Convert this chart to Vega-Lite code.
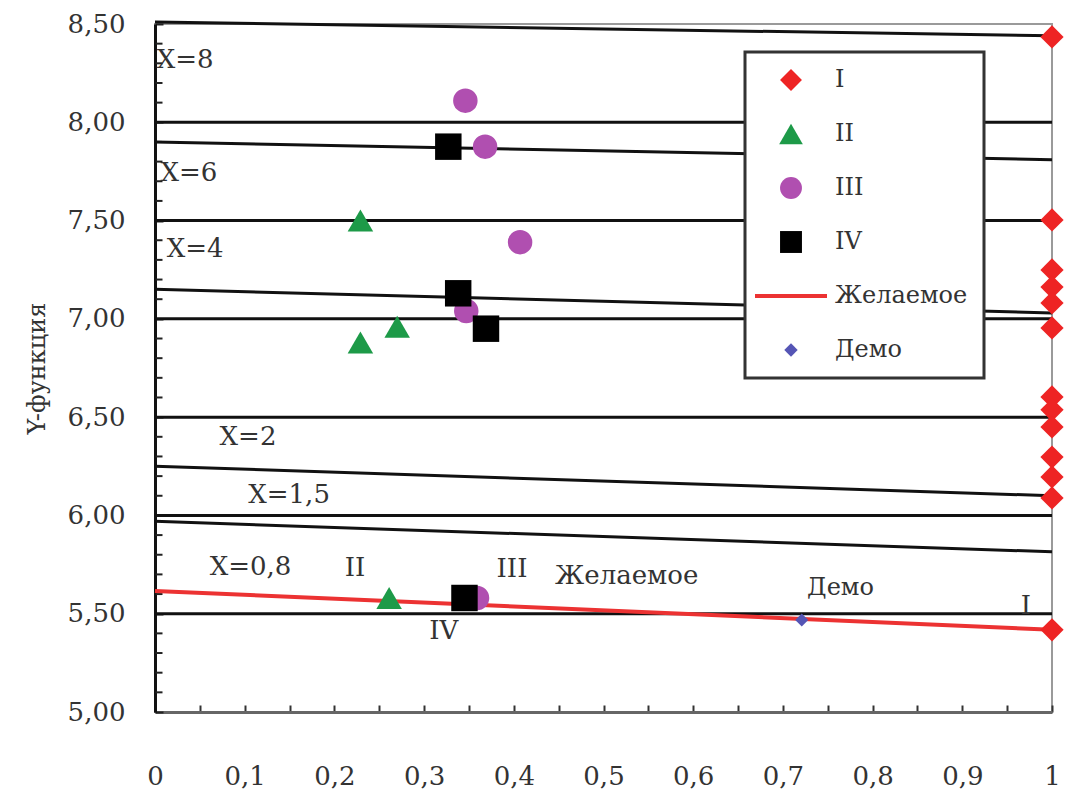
{
  "$schema": "https://vega.github.io/schema/vega-lite/v6.json",
  "width": 897,
  "height": 688,
  "autosize": {"type": "none"},
  "padding": {"left": 155, "top": 24, "right": 18, "bottom": 82},
  "background": "white",
  "config": {
    "font": "DejaVu Serif",
    "view": {"stroke": "#9a9a9a", "strokeWidth": 2},
    "axis": {"labelOverlap": false}
  },
  "datasets": {
    "grid": [{"y": 5.5}, {"y": 6.0}, {"y": 6.5}, {"y": 7.0}, {"y": 7.5}, {"y": 8.0}],
    "minor": [
      {"x": 0, "y": 5.1}, {"x": 0, "y": 5.2}, {"x": 0, "y": 5.3}, {"x": 0, "y": 5.4},
      {"x": 0, "y": 5.6}, {"x": 0, "y": 5.7}, {"x": 0, "y": 5.8}, {"x": 0, "y": 5.9},
      {"x": 0, "y": 6.1}, {"x": 0, "y": 6.2}, {"x": 0, "y": 6.3}, {"x": 0, "y": 6.4},
      {"x": 0, "y": 6.6}, {"x": 0, "y": 6.7}, {"x": 0, "y": 6.8}, {"x": 0, "y": 6.9},
      {"x": 0, "y": 7.1}, {"x": 0, "y": 7.2}, {"x": 0, "y": 7.3}, {"x": 0, "y": 7.4},
      {"x": 0, "y": 7.6}, {"x": 0, "y": 7.7}, {"x": 0, "y": 7.8}, {"x": 0, "y": 7.9},
      {"x": 0, "y": 8.1}, {"x": 0, "y": 8.2}, {"x": 0, "y": 8.3}, {"x": 0, "y": 8.4}
    ],
    "curves": [
      {"curve": "X8", "x": 0, "y": 8.51}, {"curve": "X8", "x": 1, "y": 8.44},
      {"curve": "X6", "x": 0, "y": 7.90}, {"curve": "X6", "x": 1, "y": 7.81},
      {"curve": "X4", "x": 0, "y": 7.15}, {"curve": "X4", "x": 1, "y": 7.03},
      {"curve": "X2", "x": 0, "y": 6.25}, {"curve": "X2", "x": 1, "y": 6.10},
      {"curve": "X15", "x": 0, "y": 5.97}, {"curve": "X15", "x": 1, "y": 5.815}
    ],
    "desired": [
      {"series": "Желаемое", "x": 0, "y": 5.616},
      {"series": "Желаемое", "x": 1, "y": 5.418}
    ],
    "points": [
      {"series": "I", "x": 1, "y": 8.434},
      {"series": "I", "x": 1, "y": 7.503},
      {"series": "I", "x": 1, "y": 7.249},
      {"series": "I", "x": 1, "y": 7.162},
      {"series": "I", "x": 1, "y": 7.081},
      {"series": "I", "x": 1, "y": 6.954},
      {"series": "I", "x": 1, "y": 6.603},
      {"series": "I", "x": 1, "y": 6.537},
      {"series": "I", "x": 1, "y": 6.450},
      {"series": "I", "x": 1, "y": 6.297},
      {"series": "I", "x": 1, "y": 6.196},
      {"series": "I", "x": 1, "y": 6.089},
      {"series": "I", "x": 1, "y": 5.418},
      {"series": "II", "x": 0.229, "y": 7.50},
      {"series": "II", "x": 0.270, "y": 6.96},
      {"series": "II", "x": 0.229, "y": 6.88},
      {"series": "II", "x": 0.261, "y": 5.58},
      {"series": "III", "x": 0.346, "y": 8.11},
      {"series": "III", "x": 0.368, "y": 7.876},
      {"series": "III", "x": 0.407, "y": 7.39},
      {"series": "III", "x": 0.347, "y": 7.04},
      {"series": "III", "x": 0.359, "y": 5.58},
      {"series": "IV", "x": 0.327, "y": 7.876},
      {"series": "IV", "x": 0.338, "y": 7.13},
      {"series": "IV", "x": 0.369, "y": 6.95},
      {"series": "IV", "x": 0.345, "y": 5.58},
      {"series": "Демо", "x": 0.721, "y": 5.468}
    ],
    "labels": [
      {"t": "X=8", "x": 0.002, "y": 8.317, "a": "left", "s": 26},
      {"t": "X=6", "x": 0.006, "y": 7.742, "a": "left", "s": 26},
      {"t": "X=4", "x": 0.013, "y": 7.356, "a": "left", "s": 26},
      {"t": "X=2", "x": 0.072, "y": 6.40, "a": "left", "s": 26},
      {"t": "X=1,5", "x": 0.104, "y": 6.104, "a": "left", "s": 26},
      {"t": "X=0,8", "x": 0.061, "y": 5.738, "a": "left", "s": 26},
      {"t": "II", "x": 0.223, "y": 5.733, "a": "center", "s": 26},
      {"t": "III", "x": 0.398, "y": 5.728, "a": "center", "s": 26},
      {"t": "IV", "x": 0.322, "y": 5.41, "a": "center", "s": 26},
      {"t": "Желаемое", "x": 0.446, "y": 5.69, "a": "left", "s": 26},
      {"t": "Демо", "x": 0.727, "y": 5.63, "a": "left", "s": 24},
      {"t": "I", "x": 0.971, "y": 5.54, "a": "center", "s": 26}
    ]
  },
  "layer": [
    {
      "data": {"name": "grid"},
      "mark": {"type": "rule", "color": "#111111", "strokeWidth": 3},
      "encoding": {
        "y": {
          "field": "y", "type": "quantitative",
          "scale": {"domain": [5, 8.5], "nice": false, "zero": false},
          "axis": {
            "title": "Y-функция",
            "values": [5.0, 5.5, 6.0, 6.5, 7.0, 7.5, 8.0, 8.5],
            "labelExpr": "replace(format(datum.value, '.2f'), '.', ',')",
            "grid": false,
            "tickSize": -8,
            "tickWidth": 2,
            "tickColor": "#222222",
            "labelPadding": 38,
            "labelOverlap": false,
            "labelBound": false,
            "labelFont": "DejaVu Serif",
            "labelFontSize": 26,
            "labelColor": "#333333",
            "domainColor": "#111111",
            "domainWidth": 3,
            "titleFont": "DejaVu Serif",
            "titleFontSize": 24,
            "titleFontWeight": "normal",
            "titleColor": "#333333",
            "titlePadding": 18
          }
        }
      }
    },
    {
      "data": {"name": "minor"},
      "mark": {"type": "tick", "orient": "horizontal", "size": 7, "thickness": 2, "color": "#222222", "xOffset": 4, "opacity": 1},
      "encoding": {
        "x": {"field": "x", "type": "quantitative"},
        "y": {"field": "y", "type": "quantitative"}
      }
    },
    {
      "data": {"name": "curves"},
      "mark": {"type": "line", "color": "#111111", "strokeWidth": 3},
      "encoding": {
        "x": {
          "field": "x", "type": "quantitative",
          "scale": {"domain": [0, 1], "nice": false, "zero": false},
          "axis": {
            "title": null,
            "values": [0, 0.05, 0.1, 0.15, 0.2, 0.25, 0.3, 0.35, 0.4, 0.45, 0.5, 0.55, 0.6, 0.65, 0.7, 0.75, 0.8, 0.85, 0.9, 0.95, 1],
            "labelExpr": "abs(datum.value*10 - round(datum.value*10)) < 0.001 ? replace(format(datum.value, '~g'), '.', ',') : ''",
            "grid": false,
            "tickSize": -7,
            "tickWidth": 2,
            "tickColor": "#333333",
            "labelPadding": 58,
            "labelFlush": false,
            "labelOverlap": false,
            "labelFont": "DejaVu Serif",
            "labelFontSize": 26,
            "labelColor": "#333333",
            "domainColor": "#666666",
            "domainWidth": 3
          }
        },
        "y": {"field": "y", "type": "quantitative"},
        "detail": {"field": "curve", "type": "nominal"}
      }
    },
    {
      "data": {"name": "desired"},
      "mark": {"type": "line", "strokeWidth": 4},
      "encoding": {
        "x": {"field": "x", "type": "quantitative"},
        "y": {"field": "y", "type": "quantitative"},
        "color": {
          "field": "series", "type": "nominal",
          "scale": {
            "domain": ["I", "II", "III", "IV", "Желаемое", "Демо"],
            "range": ["#ee2424", "#1d9a48", "#b04fb0", "#000000", "#ec3232", "#5555b5"]
          },
          "legend": {
            "title": null,
            "orient": "none",
            "legendX": 590,
            "legendY": 28,
            "padding": 16,
            "symbolOffset": 18,
            "labelOffset": 32,
            "rowPadding": 30,
            "labelFont": "DejaVu Serif",
            "labelFontSize": 24,
            "labelColor": "#333333",
            "symbolSize": 480,
            "symbolOpacity": 1,
            "strokeColor": "#333333",
            "fillColor": "white",
            "encode": {
              "symbols": {
                "update": {
                  "size": {"signal": "datum.value === 'Желаемое' ? 5184 : datum.value === 'Демо' ? 180 : datum.value === 'II' ? 560 : 480"},
                  "stroke": {"scale": "color", "field": "value"},
                  "strokeWidth": {"signal": "datum.value === 'Желаемое' ? 4 : 0"}
                }
              },
              "legend": {"update": {"strokeWidth": {"value": 3}}}
            }
          }
        },
        "shape": {
          "field": "series", "type": "nominal",
          "scale": {
            "domain": ["I", "II", "III", "IV", "Желаемое", "Демо"],
            "range": ["diamond", "triangle-up", "circle", "square", "stroke", "diamond"]
          }
        }
      }
    },
    {
      "data": {"name": "points"},
      "transform": [{"filter": "datum.series === 'I'"}],
      "mark": {"type": "point", "filled": true, "opacity": 1, "size": 540},
      "encoding": {
        "x": {"field": "x", "type": "quantitative"},
        "y": {"field": "y", "type": "quantitative"},
        "color": {"field": "series", "type": "nominal"},
        "shape": {"field": "series", "type": "nominal"}
      }
    },
    {
      "data": {"name": "points"},
      "transform": [{"filter": "datum.series === 'II'"}],
      "mark": {"type": "point", "filled": true, "opacity": 1, "size": 650},
      "encoding": {
        "x": {"field": "x", "type": "quantitative"},
        "y": {"field": "y", "type": "quantitative"},
        "color": {"field": "series", "type": "nominal"},
        "shape": {"field": "series", "type": "nominal"}
      }
    },
    {
      "data": {"name": "points"},
      "transform": [{"filter": "datum.series === 'III'"}],
      "mark": {"type": "point", "filled": true, "opacity": 1, "size": 600},
      "encoding": {
        "x": {"field": "x", "type": "quantitative"},
        "y": {"field": "y", "type": "quantitative"},
        "color": {"field": "series", "type": "nominal"},
        "shape": {"field": "series", "type": "nominal"}
      }
    },
    {
      "data": {"name": "points"},
      "transform": [{"filter": "datum.series === 'IV'"}],
      "mark": {"type": "point", "filled": true, "opacity": 1, "size": 700},
      "encoding": {
        "x": {"field": "x", "type": "quantitative"},
        "y": {"field": "y", "type": "quantitative"},
        "color": {"field": "series", "type": "nominal"},
        "shape": {"field": "series", "type": "nominal"}
      }
    },
    {
      "data": {"name": "points"},
      "transform": [{"filter": "datum.series === 'Демо'"}],
      "mark": {"type": "point", "filled": true, "opacity": 1, "size": 170},
      "encoding": {
        "x": {"field": "x", "type": "quantitative"},
        "y": {"field": "y", "type": "quantitative"},
        "color": {"field": "series", "type": "nominal"},
        "shape": {"field": "series", "type": "nominal"}
      }
    },
    {
      "data": {"name": "labels"},
      "transform": [{"filter": "datum.a === 'left'"}],
      "mark": {"type": "text", "font": "DejaVu Serif", "color": "#333333", "baseline": "middle", "align": "left"},
      "encoding": {
        "x": {"field": "x", "type": "quantitative"},
        "y": {"field": "y", "type": "quantitative"},
        "text": {"field": "t", "type": "nominal"},
        "size": {"field": "s", "type": "quantitative", "scale": null}
      }
    },
    {
      "data": {"name": "labels"},
      "transform": [{"filter": "datum.a === 'center'"}],
      "mark": {"type": "text", "font": "DejaVu Serif", "color": "#333333", "baseline": "middle", "align": "center"},
      "encoding": {
        "x": {"field": "x", "type": "quantitative"},
        "y": {"field": "y", "type": "quantitative"},
        "text": {"field": "t", "type": "nominal"},
        "size": {"field": "s", "type": "quantitative", "scale": null}
      }
    }
  ]
}
